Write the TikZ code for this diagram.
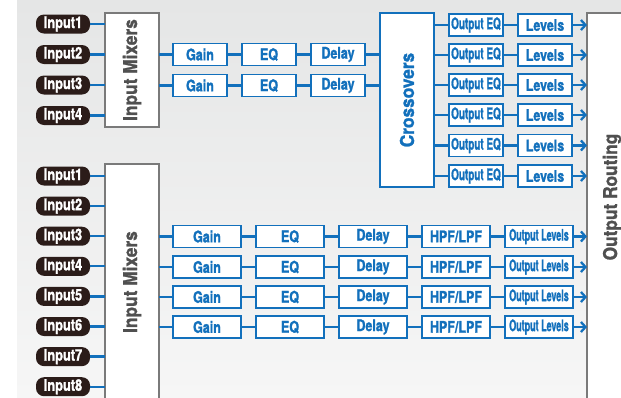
\documentclass[tikz,border=0pt]{standalone}
\usepackage{fontspec}
\usepackage{xcolor}
\usepackage{tikz}
\usetikzlibrary{arrows.meta, positioning}
\newfontfamily\pillfont[FakeStretch=0.8, FakeBold=1.2]{TeX Gyre Heros}
\newfontfamily\boxfont[FakeStretch=0.78, FakeBold=1.2]{TeX Gyre Heros}
\newfontfamily\eqfont[FakeStretch=0.62, FakeBold=1.2]{TeX Gyre Heros}
\newfontfamily\lvlfont[FakeStretch=0.56, FakeBold=1.2]{TeX Gyre Heros}
\newfontfamily\titlefont[FakeStretch=0.91, FakeBold=1.2]{TeX Gyre Heros}
\definecolor{procblue}{RGB}{18, 112, 188}
\definecolor{pillbrown}{RGB}{43, 28, 25}
\definecolor{framegray}{RGB}{122, 122, 122}
\definecolor{titlegray}{RGB}{80, 80, 80}
\definecolor{bgtop}{RGB}{229, 230, 230}
\definecolor{bgbottom}{RGB}{246, 246, 246}

\begin{document}
\begin{tikzpicture}[
    x=1pt, y=-1pt,
    node distance=15pt,
    every node/.style={outer sep=0pt, inner sep=0pt, align=center},
    inpill/.style={fill=pillbrown, rounded corners=8pt, minimum width=54pt, minimum height=19pt, text=white, font=\pillfont\bfseries\fontsize{16}{16}\selectfont},
    mixbox/.style={draw=framegray, fill=white, line width=1.6pt, minimum width=54pt, text=titlegray, font=\titlefont\bfseries\fontsize{19}{19}\selectfont},
    procbox/.style={draw=procblue, fill=white, line width=1.5pt, minimum width=54pt, minimum height=22pt, text=procblue, font=\boxfont\bfseries\fontsize{16}{16}\selectfont},
    wire/.style={draw=procblue, line width=2.3pt},
    arr/.style={wire, -{Straight Barb[length=4.5pt, width=10pt, line width=2.3pt]}}
]

% Background panel
\useasboundingbox (0,0) rectangle (621,397);
\shade[top color=bgtop, bottom color=bgbottom] (17,0) rectangle (621,397);

% Output routing (right edge, runs off the page)
\node[mixbox, minimum width=50pt, minimum height=420pt, anchor=north west] (route) at (587,13) {\rotatebox{90}{\hspace*{52pt}Output Routing}};

% Upper block: inputs and mixer
\node[mixbox, minimum height=114pt] (mixA) at (132,70) {\rotatebox{90}{Input Mixers}};
\foreach \i/\y in {1/24,2/54.5,3/85,4/115.5} {
    \node[inpill] (inA\i) at (63,\y) {Input\i};
    \draw[wire] (inA\i.east) -- (inA\i.east -| mixA.west);
}

% Crossovers
\node[procbox, minimum height=174pt, anchor=west, font=\titlefont\bfseries\fontsize{19}{19}\selectfont] (xover) at (380,100) {\rotatebox{90}{Crossovers}};

% Upper processing chains
\foreach \r/\y in {1/54.5,2/85.5} {
    \node[procbox, anchor=west] (gainA\r) at (173,\y) {Gain};
    \node[procbox, right=of gainA\r] (eqA\r) {EQ};
    \node[procbox, right=of eqA\r] (delayA\r) {Delay};
    \draw[wire] (gainA\r.west -| mixA.east) -- (gainA\r.west);
    \draw[wire] (gainA\r) -- (eqA\r);
    \draw[wire] (eqA\r) -- (delayA\r);
    \draw[wire] (delayA\r.east) -- (delayA\r.east -| xover.west);
}

% Crossover outputs
\foreach \r/\y in {1/25,2/55,3/85,4/115,5/145.5,6/176} {
    \node[procbox, anchor=west, font=\eqfont\bfseries\fontsize{16}{16}\selectfont] (oeqA\r) at (449,\y) {Output EQ};
    \node[procbox, right=of oeqA\r] (lvlA\r) {Levels};
    \draw[wire] (oeqA\r.west -| xover.east) -- (oeqA\r.west);
    \draw[wire] (oeqA\r) -- (lvlA\r);
    \draw[arr] (lvlA\r.east) -- (lvlA\r.east -| route.west);
}

% Lower block: inputs and mixer
\node[mixbox, minimum height=236pt, anchor=north] (mixB) at (132,164) {\rotatebox{90}{Input Mixers}};
\foreach \i in {1,...,8} {
    \node[inpill] (inB\i) at (63,{176+30.1*(\i-1)}) {Input\i};
    \draw[wire] (inB\i.east) -- (inB\i.east -| mixB.west);
}

% Lower processing chains
\foreach \r/\y in {1/236.5,2/267,3/297,4/327} {
    \node[procbox, minimum width=68pt, anchor=west] (gainB\r) at (173,\y) {Gain};
    \node[procbox, minimum width=68pt, right=of gainB\r] (eqB\r) {EQ};
    \node[procbox, minimum width=68pt, right=of eqB\r] (delayB\r) {Delay};
    \node[procbox, minimum width=68pt, right=of delayB\r] (filtB\r) {HPF/LPF};
    \node[procbox, minimum width=68pt, right=of filtB\r, font=\lvlfont\bfseries\fontsize{16}{16}\selectfont] (lvlB\r) {Output Levels};
    \draw[wire] (gainB\r.west -| mixB.east) -- (gainB\r.west);
    \draw[wire] (gainB\r) -- (eqB\r);
    \draw[wire] (eqB\r) -- (delayB\r);
    \draw[wire] (delayB\r) -- (filtB\r);
    \draw[wire] (filtB\r) -- (lvlB\r);
    \draw[arr] (lvlB\r.east) -- (lvlB\r.east -| route.west);
}

\end{tikzpicture}
\end{document}
